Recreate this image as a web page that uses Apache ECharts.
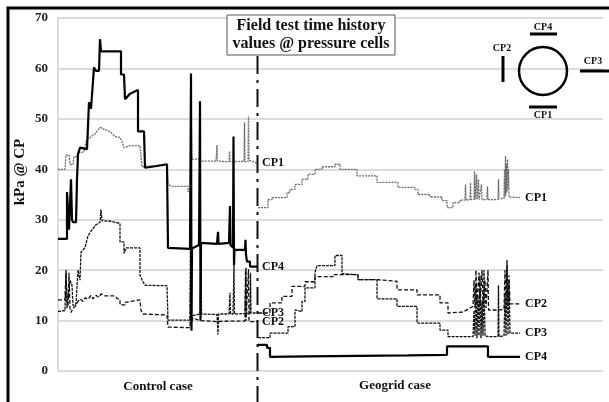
<!DOCTYPE html>
<html><head><meta charset="utf-8">
<script src="https://cdn.jsdelivr.net/npm/echarts@6/dist/echarts.min.js"></script>
<style>html,body{margin:0;padding:0;background:#fff}#c{width:609px;height:402px}</style>
</head><body><div id="c"></div>
<script>
// time index (arbitrary units), value in kPa
const yTicks = [0, 10, 20, 30, 40, 50, 60, 70];
const caseLabels = ['Control case', 'Geogrid case'];
const dividerT = 199.5;
const seriesNames = ['CP1', 'CP2', 'CP3', 'CP4'];

const cp1Control = [[0,40],[7,40],[8,42.8],[11,42.8],[12,41],[15,41],[16,42.5],[19,42.5],[20,43.2],[26,43.5],[28,45.5],[30,46],[33,46.5],[37,47],[42,48.3],[48,47.8],[52,47.5],[57,46.5],[62,46.3],[64,45.5],[66,44.3],[72,44.7],[82,44.7],[84,40.5],[109,40.8],[110,37],[114,36.6],[130,36.6],[130,35.6],[133,35.6],[133.5,48],[134,42],[142,42],[142,41.6],[158,41.6],[159,44.8],[159.5,41.6],[171,41.5],[171.5,43.6],[172,41.5],[186,41.6],[186.5,49.3],[187,41.5],[190,41.5],[190.5,50.5],[191,41.8],[199,41.2]];
const cp2Control = [[0,14.1],[7,14.1],[8,20],[9,14],[10,13],[11,19.5],[12,12.5],[13,11.6],[15,12.5],[18,13],[20,13.8],[22,14.3],[25,13.8],[27,14.5],[30,14.2],[33,15],[35,14.3],[38,15],[41,14.6],[43,15.3],[47,14.9],[57,14.9],[59,14.4],[62,14.2],[62,13.1],[67,13.1],[67,13.6],[82,14.1],[83,12],[85,11.3],[87,11.1],[109,11.1],[110,8.7],[132,8.6],[132.5,18],[133,9.5],[135,10.5],[142,10],[143,9.8],[159,9.8],[171,9.9],[187,9.9],[187.5,20],[188,9.9],[190,9.8],[190.5,20.2],[191,9.8],[199,9.8]];
const cp3Control = [[0,11.8],[7,12],[8,19.5],[9,12.5],[11,12.5],[12,18],[14,17],[15,13],[18,13.3],[19,13.5],[20,20],[22,18],[23,23.5],[27,24.5],[30,26.8],[34,28],[38,29],[42,29.5],[43,32],[44,29.8],[52,29.7],[62,29.3],[62,25.6],[66,25.6],[66,23.3],[68,24.4],[82,24.4],[82,19],[85,17.7],[87,17],[109,16.9],[110,10.1],[132,10.1],[132.5,28],[133,10.5],[135,11],[142,11.3],[143,23.4],[143.5,11.3],[159,11.2],[160,7.2],[160.5,11.3],[171,11.3],[172,15.5],[172.5,11.3],[175,11.3],[176,21],[176.5,11.3],[187,11.4],[188,20.5],[188.5,11.4],[192,11.4],[192.5,19.5],[193,11.5],[199,11.5]];
const cp4Control = [[0,26.2],[9,26.2],[9,35.5],[11,35.5],[11,28],[12,28],[13,38],[14,30],[15,29.5],[18,29.5],[19,38],[20,43],[22,44.3],[29,44],[31,53.3],[33,52],[36,60.2],[38,59.5],[41,59.5],[42,65.8],[43,63.4],[63,63.4],[63,58.8],[66,58.8],[67,53.9],[72,55],[80,55.7],[80,47.5],[86,47.5],[87,40.3],[97,40.6],[109,41],[110,24.4],[132,24.2],[133,59],[133.5,8],[134,24.3],[141,25],[142,53.5],[142.5,10],[143,25.4],[159,25.2],[160,27.6],[160.5,25.2],[171,25.4],[172,32.7],[172.5,25],[175,24.5],[175.5,46.5],[176,21],[176.5,24],[187,24],[187.5,26],[188,23],[189,21.7],[192,21.7],[192,20.7],[199,20.7]];

const cp1Geogrid = [[200,32.4],[210,32.4],[210,34],[214,34],[214,34.4],[229,34.4],[229,35.4],[232,35.4],[232,36],[237,36],[237,37],[244,37],[244,38],[250,38],[250,39],[257,39],[257,40],[264,40],[264,40.5],[277,40.5],[277,41],[282,41],[282,40],[299,40],[299,38.7],[319,38.7],[319,37.4],[340,37.4],[340,36.4],[357,36.4],[357,36],[360,36],[360,35],[372,35],[372,34.5],[384,34.5],[384,33.8],[389,33.8],[389,32.4],[395,32.4],[395,33.4],[402,33.4],[402,33.9],[407,33.9],[407.5,37],[408,33.9],[412,34],[412.5,37.3],[413,34],[416,34],[416.5,39.6],[417,34],[418,34],[418.5,39],[419,34],[420,34],[420.5,38],[421,34],[423,34],[423.5,37],[424,34],[429,34],[429.5,36.6],[430,34],[440,34],[440.5,38],[441,34.2],[446,34.2],[446.5,40],[447,34.5],[447.5,42.6],[448,35],[448.5,41],[449,35.5],[449.5,42],[450,36],[450.5,40],[451,34.5],[452,34.4],[462,34.4]];
const cp2Geogrid = [[200,11.5],[212,11.5],[212,13.5],[224,13.5],[224,14.8],[234,14.8],[234,16.8],[247,16.8],[247,17.7],[257,17.7],[257,18.7],[275,18.7],[275,19.1],[300,19.1],[300,18.1],[319,18.1],[319,17.8],[339,17.8],[339,16.1],[359,16.1],[359,15.1],[382,15.1],[382,13.5],[390,13.5],[390,11.5],[405,11.7],[412,12.5],[415,12.8],[416,18],[417,12.5],[418,20],[419,13],[421,19.5],[422,13],[424,20],[425,13],[427,18],[428,12.5],[430,20],[430.5,12.1],[440,12.1],[446,12.2],[447,20],[448,13],[449,21],[450,13.3],[451,19],[452,13.3],[462,13.3]];
const cp3Geogrid = [[200,6.6],[212,6.6],[212,7.5],[230,7.5],[230,8.8],[237,8.8],[237,12.1],[244,11.8],[244,13.8],[247,13.8],[247,16.5],[257,16.5],[257,19.5],[259,20.9],[277,20.9],[277,22.9],[284,22.9],[284,19.3],[300,19.1],[300,18.1],[319,18.1],[319,14.3],[339,14.3],[339,12.8],[359,12.8],[359,9.5],[382,9.5],[382,8.1],[390,8.1],[390,6.8],[415,6.8],[416,12],[417,7],[418,17],[419,6.5],[420,15],[421,7],[422,19],[423,6.5],[424,14],[425,7],[426,20],[427,7],[430,6.8],[440,6.8],[440.5,17],[441,6.8],[446,7],[447,15],[448,7],[449,22],[450,7.2],[451,18],[452,7.5],[462,7.5]];
const cp4Geogrid = [[200,5.2],[209,5.2],[209,4.6],[212,4.6],[212,2.8],[250,2.9],[300,3.0],[350,3.1],[389,3.2],[389,4.9],[430,4.9],[430,2.8],[462,2.8]];

const FONT = 'Liberation Serif';
const styles = {
  CP1: {color: '#6a6a6a', width: 1.3, type: [2, 1]},
  CP2: {color: '#111', width: 1.3, type: [4, 2]},
  CP3: {color: '#111', width: 1.3, type: [3, 1]},
  CP4: {color: '#000', width: 2.2, type: 'solid'}
};
function mk(name, data) {
  return {
    type: 'line', name: name, data: data, symbol: 'none', silent: true,
    lineStyle: styles[name], z: name === 'CP4' ? 4 : 3,
    endLabel: {show: true, formatter: name, distance: 5, fontFamily: FONT, fontWeight: 'bold', fontSize: 12, color: '#111'}
  };
}
const series = [
  mk('CP1', cp1Control), mk('CP2', cp2Control), mk('CP3', cp3Control), mk('CP4', cp4Control),
  mk('CP1', cp1Geogrid), mk('CP2', cp2Geogrid), mk('CP3', cp3Geogrid), mk('CP4', cp4Geogrid)
];

const chart = echarts.init(document.getElementById('c'));
chart.setOption({
  animation: false,
  backgroundColor: '#fff',
  grid: {left: 58, right: 6, top: 18, bottom: 31},
  xAxis: {type: 'value', min: 0, max: 545, axisLine: {show: false}, axisTick: {show: false}, axisLabel: {show: false}, splitLine: {show: false}},
  yAxis: {type: 'value', min: yTicks[0], max: yTicks[yTicks.length - 1], interval: 10,
    axisLine: {show: true, lineStyle: {color: '#d0d0d0', width: 1.5}}, axisTick: {show: false},
    axisLabel: {margin: 10, fontFamily: FONT, fontWeight: 'bold', fontSize: 13, color: '#222'},
    splitLine: {lineStyle: {color: '#d0d0d0', width: 1.5}}},
  series: series
});

const dx = chart.convertToPixel({xAxisIndex: 0}, dividerT);
const cx1 = chart.convertToPixel({xAxisIndex: 0}, 100);
const cx2 = chart.convertToPixel({xAxisIndex: 0}, 337);
const txt = (x, y, s, size, extra) => Object.assign({type: 'text', x: x, y: y, silent: true,
  style: {text: s, fontFamily: FONT, fontWeight: 'bold', fontSize: size, fill: '#111', align: 'center', verticalAlign: 'middle'}}, extra || {});
chart.setOption({
  graphic: [
    {type: 'rect', shape: {x: 8, y: 8, width: 900, height: 900}, style: {fill: 'none', stroke: '#000', lineWidth: 3}, silent: true, z: 10},
    {type: 'line', shape: {x1: dx, y1: 56, x2: dx, y2: 402}, style: {stroke: '#111', lineWidth: 2, lineDash: [18, 6, 3, 6]}, silent: true, z: 5},
    {type: 'rect', shape: {x: 227, y: 15, width: 168, height: 40}, style: {fill: '#fff', stroke: '#555', lineWidth: 1}, silent: true, z: 6},
    txt(311, 26, 'Field test time history', 16, {z: 7}),
    txt(311, 44, 'values @ pressure cells', 16, {z: 7}),
    txt(20, 172, 'kPa @ CP', 15, {rotation: Math.PI / 2}),
    txt(cx1, 387, caseLabels[0], 13),
    txt(cx2, 386, caseLabels[1], 13),
    {type: 'circle', shape: {cx: 543, cy: 71, r: 24}, style: {fill: 'none', stroke: '#000', lineWidth: 2.5}, silent: true},
    {type: 'line', shape: {x1: 530, y1: 34, x2: 557, y2: 34}, style: {stroke: '#000', lineWidth: 3}, silent: true},
    {type: 'line', shape: {x1: 529, y1: 107, x2: 557, y2: 107}, style: {stroke: '#000', lineWidth: 3}, silent: true},
    {type: 'line', shape: {x1: 503, y1: 56, x2: 503, y2: 82}, style: {stroke: '#000', lineWidth: 3}, silent: true},
    {type: 'line', shape: {x1: 580, y1: 71, x2: 609, y2: 71}, style: {stroke: '#000', lineWidth: 3}, silent: true},
    txt(543, 27, seriesNames[3], 10),
    txt(543, 115, seriesNames[0], 10),
    txt(502, 48, seriesNames[1], 10),
    txt(593, 61, seriesNames[2], 10)
  ]
});
</script></body></html>
